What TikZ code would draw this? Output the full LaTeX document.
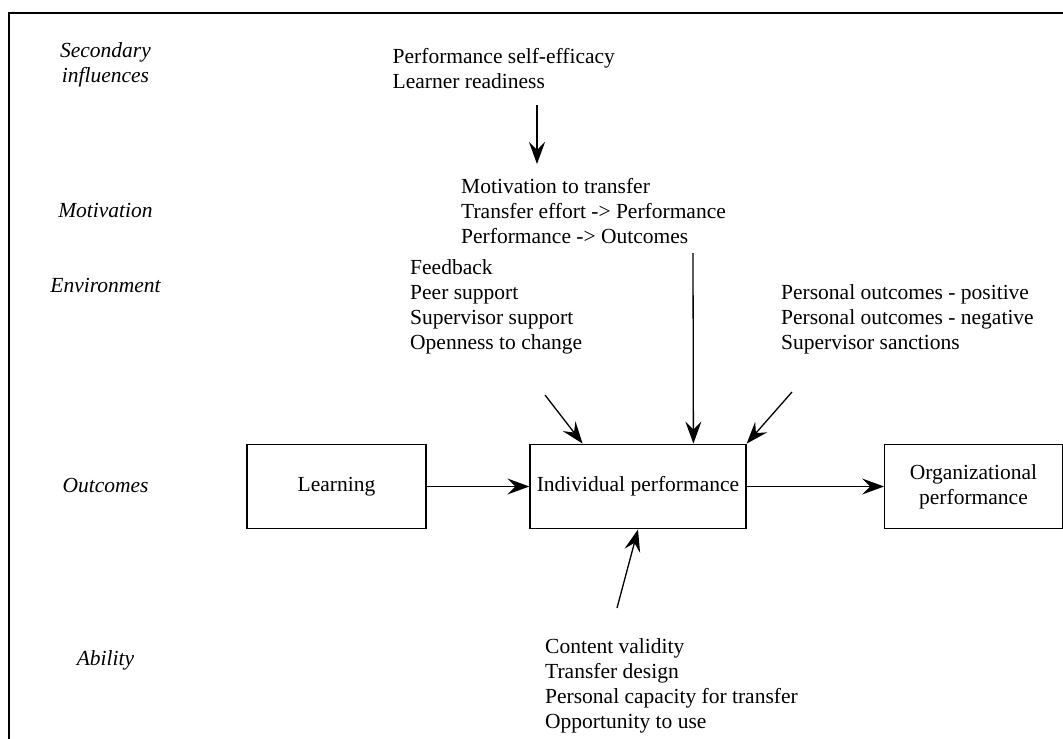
\documentclass[tikz,border=0pt]{standalone}
\usepackage{fontspec}
\setmainfont{Liberation Serif}
\usetikzlibrary{arrows.meta,calc}
\begin{document}
\begin{tikzpicture}[x=1pt,y=-1pt,
  % multi-line nodes: base anchor sits on the baseline of the last line
  txt/.style={font=\fontsize{21.5}{25}\selectfont, inner sep=0pt, align=left, anchor=base west},
  side/.style={font=\fontsize{21.5}{25}\selectfont\itshape, inner sep=0pt, align=center, anchor=base},
  box/.style={draw, line width=1.3pt, inner sep=0pt, align=center,
    font=\fontsize{21.5}{25}\selectfont, minimum height=84.5pt},
  conn/.style={line width=1.3pt, -{Stealth[length=22pt,width=16pt,inset=8pt]}}]
\useasboundingbox (0,0) rectangle (1063,739);
\begin{scope}
\clip (0,0) rectangle (1063,739);
% outer frame (left and top edges)
\draw[line width=2pt] (8.5,760) -- (8.5,12.5) -- (1080,12.5);
\end{scope}

% row labels
\node[side] (lsec) at (105.5,82) {Secondary\\influences};
\node[side] (lmot) at (105.5,217) {Motivation};
\node[side] (lenv) at (105.5,292) {Environment};
\node[side] (lout) at (105.5,492) {Outcomes};
\node[side] (labl) at (105.5,665) {Ability};

% factor lists
\node[txt] (tsec) at (392.5,88.5) {Performance self-efficacy\\Learner readiness};
\node[txt] (tmot) at (461,243.5) {Motivation to transfer\\Transfer effort -> Performance\\Performance -> Outcomes};
\node[txt] (tenv) at (410,349.5) {Feedback\\Peer support\\Supervisor support\\Openness to change};
\node[txt] (tpers) at (781,349.5) {Personal outcomes - positive\\Personal outcomes - negative\\Supervisor sanctions};
\node[txt] (tabl) at (545,728) {Content validity\\Transfer design\\Personal capacity for transfer\\Opportunity to use};

% outcome boxes
\node[box, minimum width=179pt] (learn) at (336.5,486.5) {Learning};
\node[box, minimum width=216pt] (ip) at (638,486.5) {Individual performance};
\node[box, minimum width=177.5pt] (org) at (973.5,486.5) {Organizational\\performance};

% arrow start points
\coordinate (ssec) at (537,105);
\coordinate (emot) at (537,164);
\coordinate (smot) at (693,253);
\coordinate (senv) at (545,395);
\coordinate (spers) at (792,392);
\coordinate (sabl) at (617,608);

\draw[conn] (ssec) -- (emot);
\draw[conn] (senv) -- ($(ip.north west)!0.245!(ip.north east)$);
\draw[conn] (smot) -- ($(ip.north west)!0.755!(ip.north east)$);
\draw[conn] (spers) -- (ip.north east);
\draw[conn] (sabl) -- (ip.south);
\draw[conn] (learn.east) -- (ip.west);
\draw[conn] (ip.east) -- (org.west);
\end{tikzpicture}
\end{document}
